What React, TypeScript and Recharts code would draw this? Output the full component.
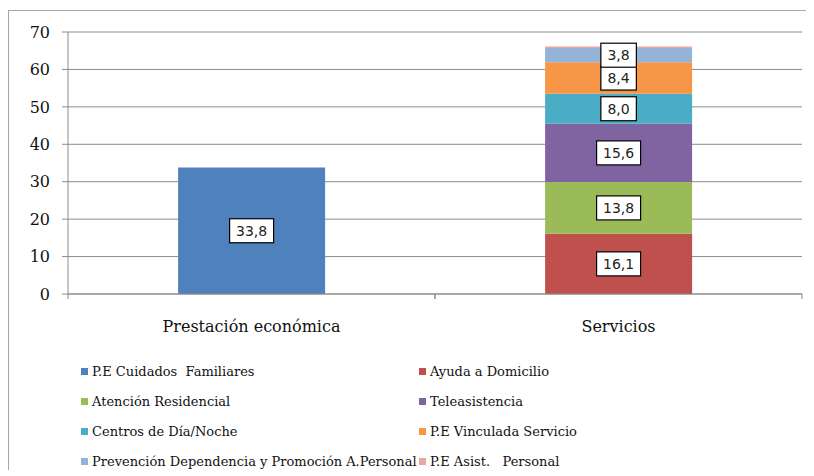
import React from "react";
import { BarChart, Bar, XAxis, YAxis, CartesianGrid, LabelList } from "recharts";

const categories = ["Prestación económica", "Servicios"];

const cuidadosFamiliares = [33.8, null];
const ayudaDomicilio = [null, 16.1];
const atencionResidencial = [null, 13.8];
const teleasistencia = [null, 15.6];
const centrosDiaNoche = [null, 8.0];
const vinculadaServicio = [null, 8.4];
const prevencion = [null, 3.8];
const asistPersonal = [null, 0.4];

const yTicks = [0, 10, 20, 30, 40, 50, 60, 70];

const series = [
  { key: "cuidados", name: "P.E Cuidados  Familiares", values: cuidadosFamiliares, color: "#4F81BD" },
  { key: "ayuda", name: "Ayuda a Domicilio", values: ayudaDomicilio, color: "#C0504D" },
  { key: "residencial", name: "Atención Residencial", values: atencionResidencial, color: "#9BBB59" },
  { key: "tele", name: "Teleasistencia", values: teleasistencia, color: "#8064A2" },
  { key: "centros", name: "Centros de Día/Noche", values: centrosDiaNoche, color: "#4BACC6" },
  { key: "vinculada", name: "P.E Vinculada Servicio", values: vinculadaServicio, color: "#F79646" },
  { key: "prevencion", name: "Prevención Dependencia y Promoción A.Personal", values: prevencion, color: "#95B3D7" },
  { key: "asist", name: "P.E Asist.   Personal", values: asistPersonal, color: "#E6A7A6" },
];

const data = categories.map((cat, i) => {
  const row: Record<string, any> = { cat };
  series.forEach((s) => {
    row[s.key] = s.values[i];
  });
  return row;
});

const serif = "'DejaVu Serif', serif";

function BoxLabel(props: any) {
  const { x, y, width, height, value } = props;
  if (value == null || value < 1) return null;
  const txt = Number(value).toFixed(1).replace(".", ",");
  const w = txt.length * 8.5 + 10;
  const h = 24;
  const cx = x + width / 2;
  const cy = y + height / 2;
  return (
    <g>
      <rect x={cx - w / 2} y={cy - h / 2} width={w} height={h} fill="#fff" stroke="#000" strokeWidth={1.2} />
      <text
        x={cx}
        y={cy + 1}
        textAnchor="middle"
        dominantBaseline="middle"
        fontFamily="'DejaVu Sans', sans-serif"
        fontSize={14}
        fill="#222"
      >
        {txt}
      </text>
    </g>
  );
}

function XTick(props: any) {
  const { x, y, payload } = props;
  const off = payload.offset || 0;
  return (
    <g>
      <line x1={x - off} y1={y - 8} x2={x - off} y2={y - 3} stroke="#888" />
      <line x1={x + off} y1={y - 8} x2={x + off} y2={y - 3} stroke="#888" />
      <text x={x} y={y + 30} textAnchor="middle" fontFamily={serif} fontSize={16} fill="#111">
        {payload.value}
      </text>
    </g>
  );
}

export default function App() {
  return (
    <div
      style={{
        position: "relative",
        top: 2,
        width: 810,
        height: 462,
        border: "1px solid #a6a6a6",
        background: "#fff",
        boxSizing: "border-box",
      }}
    >
      <BarChart
        width={800}
        height={330}
        data={data}
        margin={{ top: 21, right: 7, left: 9, bottom: 0 }}
        barCategoryGap="30%"
      >
        <CartesianGrid vertical={false} stroke="#8c8c8c" />
        <XAxis
          dataKey="cat"
          height={47}
          tickLine={false}
          axisLine={{ stroke: "#8c8c8c" }}
          tick={<XTick />}
          interval={0}
        />
        <YAxis
          width={50}
          domain={[0, 70]}
          ticks={yTicks}
          interval={0}
          tickLine={{ stroke: "#8c8c8c" }}
          axisLine={{ stroke: "#8c8c8c" }}
          tickSize={6}
          tickMargin={12}
          tick={{ fontFamily: serif, fontSize: 16, fill: "#111" }}
        />
        {series.map((s) => (
          <Bar key={s.key} dataKey={s.key} stackId="a" fill={s.color} isAnimationActive={false}>
            <LabelList dataKey={s.key} content={<BoxLabel />} />
          </Bar>
        ))}
      </BarChart>
      <div style={{ position: "absolute", left: 0, top: 353, width: 800 }}>
        {series.map((s, i) => (
          <div
            key={s.key}
            style={{
              position: "absolute",
              left: i % 2 === 0 ? 72 : 410,
              top: Math.floor(i / 2) * 30,
              display: "flex",
              alignItems: "center",
              fontFamily: serif,
              fontSize: 13,
              color: "#111",
              whiteSpace: "pre",
            }}
          >
            <span style={{ width: 7, height: 7, background: s.color, marginRight: 4, display: "inline-block" }} />
            {s.name}
          </div>
        ))}
      </div>
    </div>
  );
}
